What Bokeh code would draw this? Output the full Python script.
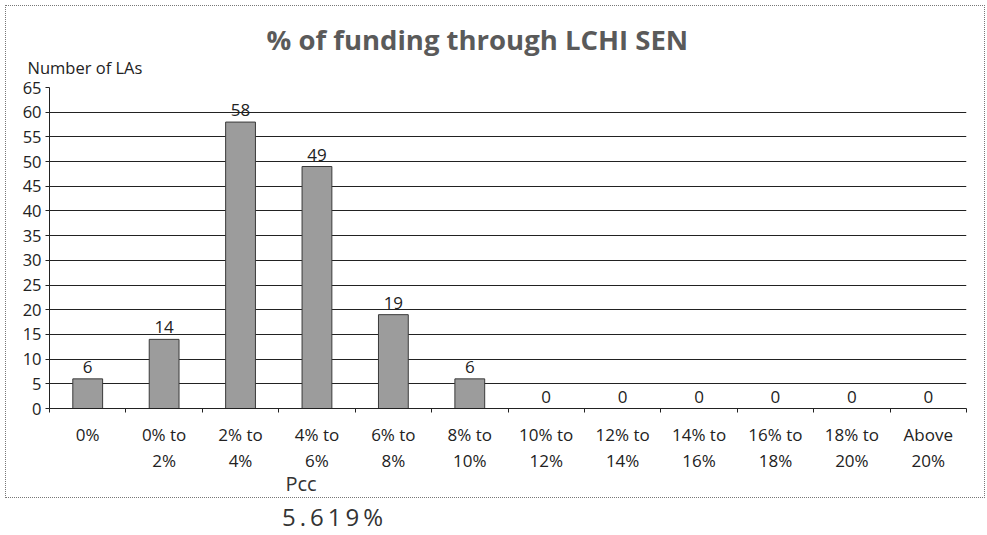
from bokeh.plotting import figure
from bokeh.models import (ColumnDataSource, Range1d, FixedTicker, Title, Div, LabelSet)
from bokeh.core.properties import value
from bokeh.layouts import column
from bokeh.embed import file_html
from bokeh.resources import INLINE
import numpy as np

categories = ["0%", "0% to\n2%", "2% to\n4%", "4% to\n6%", "6% to\n8%", "8% to\n10%",
              "10% to\n12%", "12% to\n14%", "14% to\n16%", "16% to\n18%", "18% to\n20%",
              "Above\n20%"]
counts = [6, 14, 58, 49, 19, 6, 0, 0, 0, 0, 0, 0]
y_ticks = list(range(0, 70, 5))

FONT = "Open Sans"
xs = np.arange(len(categories)) + 0.5
src = ColumnDataSource(dict(x=xs, y=counts, lbl=[str(c) for c in counts]))

p = figure(width=980, height=493, output_backend="svg", toolbar_location=None,
           x_range=Range1d(0, len(categories)), y_range=Range1d(0, 65),
           min_border_left=43, min_border_right=20, min_border_bottom=91, min_border_top=81)
p.styles = {"border": "1px dotted #777", "box-sizing": "border-box",
            "margin-left": "5px", "margin-top": "5px"}
p.outline_line_color = None
p.background_fill_color = "white"

p.title.text = "% of funding through LCHI SEN"
p.title.text_font = FONT
p.title.text_font_style = "bold"
p.title.text_font_size = "27.5px"
p.title.text_color = "#5a5a5a"
p.title.align = "left"
p.title.offset = 217
p.title.standoff = -26
p.add_layout(Title(text="Number  of LAs", align="left", offset=-22, standoff=18,
                   text_font=FONT, text_font_size="16.5px", text_font_style="normal",
                   text_color="#222"), "above")

p.vbar(x="x", top="y", width=0.39, source=src, fill_color="#9c9c9c",
       line_color="#3a3a3a", line_width=1)
p.add_layout(LabelSet(x="x", y="y", text="lbl", source=src, y_offset=6,
                      text_align="center", text_baseline="bottom",
                      text_font=value(FONT), text_font_size=value("17px"),
                      text_color="#222"))

p.ygrid.ticker = FixedTicker(ticks=y_ticks)
p.ygrid.grid_line_color = "#222"
p.ygrid.grid_line_width = 1
p.xgrid.grid_line_color = None

p.yaxis.ticker = FixedTicker(ticks=y_ticks)
p.yaxis.major_label_text_font = FONT
p.yaxis.major_label_text_font_size = "16.5px"
p.yaxis.major_label_text_color = "#222"
p.yaxis.axis_line_color = "#222"
p.yaxis.major_tick_line_color = "#222"
p.yaxis.major_tick_out = 4
p.yaxis.major_tick_in = 0
p.yaxis.minor_tick_line_color = None
p.yaxis.major_label_standoff = 4

p.xaxis.ticker = FixedTicker(ticks=list(xs), minor_ticks=list(range(len(categories) + 1)))
p.xaxis.major_label_overrides = {float(x): c for x, c in zip(xs, categories)}
p.xaxis.major_label_text_font = FONT
p.xaxis.major_label_text_font_size = "17px"
p.xaxis.major_label_text_color = "#222"
p.xaxis.major_label_text_line_height = 1.15
p.xaxis.major_label_standoff = 8
p.xaxis.major_tick_line_color = None
p.xaxis.minor_tick_line_color = "#222"
p.xaxis.minor_tick_out = 4
p.xaxis.minor_tick_in = 0
p.xaxis.axis_line_color = "#222"

p.add_layout(Title(text="Pcc", align="left", offset=236, standoff=-13,
                   text_font=FONT, text_font_size="20px", text_font_style="normal",
                   text_color="#333"), "below")

note = Div(text="5.619%", width=200, height=30,
           styles={"font-family": FONT, "font-size": "24px", "color": "#333",
                   "letter-spacing": "4px", "margin-left": "282px", "margin-top": "2px"})

layout = column(p, note, spacing=0)
open("out.html", "w").write(file_html(layout, INLINE))
